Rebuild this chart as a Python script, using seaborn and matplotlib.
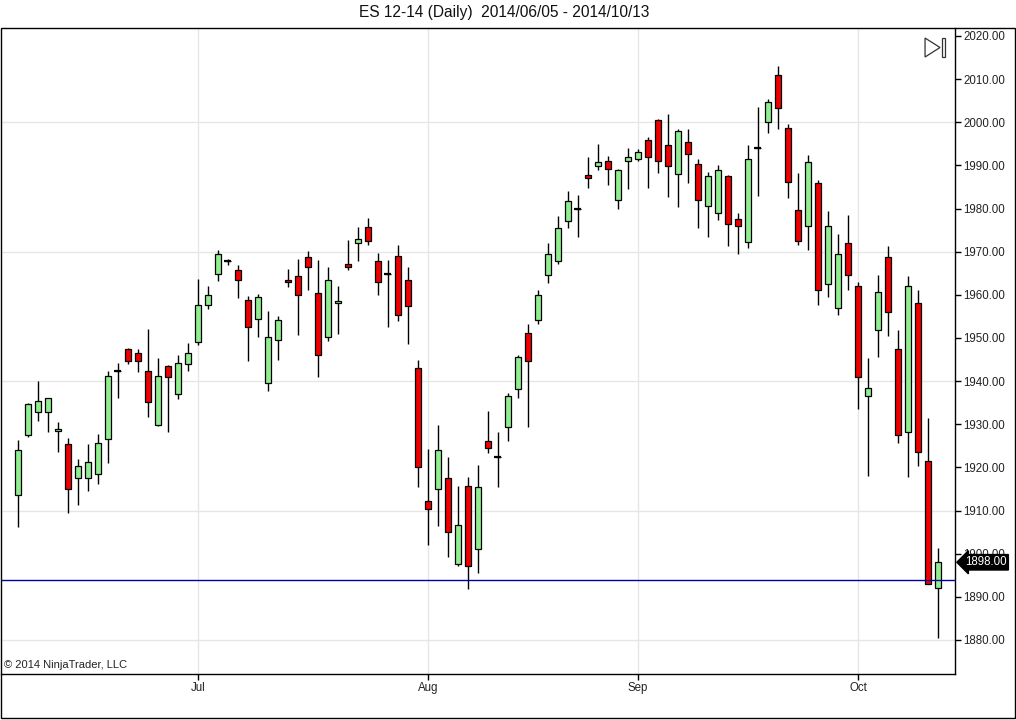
import numpy as np
import pandas as pd
import matplotlib
matplotlib.use("Agg")
import matplotlib.pyplot as plt
from matplotlib.patches import Rectangle, Polygon
import seaborn as sns

# ---------------- data ----------------
dates = pd.bdate_range("2014-06-05", "2014-10-13")

opens = [1913.5, 1927.5, 1932.75, 1932.75, 1928.5, 1925.5, 1917.5, 1917.5, 1918.5, 1926.5,
         1942.25, 1947.5, 1946.5, 1942.25, 1929.75, 1943.5, 1937.0, 1944.0, 1949.0, 1957.75,
         1964.75, 1967.75, 1965.75, 1958.75, 1954.5, 1939.5, 1949.5, 1963.5, 1964.25, 1968.75,
         1960.5, 1950.25, 1958.0, 1967.25, 1972.0, 1975.75, 1967.75, 1964.75, 1969.0, 1963.5,
         1943.0, 1912.25, 1915.0, 1917.5, 1897.5, 1915.75, 1901.0, 1926.0, 1922.5, 1929.25,
         1938.25, 1951.25, 1954.25, 1964.5, 1967.75, 1977.0, 1980.0, 1987.75, 1989.75, 1991.0,
         1982.0, 1991.0, 1991.5, 1996.0, 2000.5, 1994.75, 1988.0, 1995.5, 1990.25, 1980.5,
         1979.0, 1987.5, 1977.5, 1972.25, 1994.0, 2000.0, 2011.0, 1998.75, 1979.75, 1976.0,
         1986.0, 1962.5, 1957.0, 1972.0, 1962.0, 1936.5, 1951.75, 1968.75, 1947.5, 1928.25,
         1958.0, 1921.5, 1892.0]
highs = [1926.25, 1935.0, 1940.0, 1936.0, 1930.5, 1926.75, 1922.0, 1925.5, 1927.75, 1942.25,
         1944.25, 1947.75, 1947.5, 1952.0, 1945.25, 1943.75, 1946.0, 1948.75, 1963.75, 1962.0,
         1970.5, 1968.25, 1967.0, 1959.75, 1960.25, 1956.25, 1955.0, 1966.0, 1968.25, 1970.25,
         1968.0, 1966.5, 1962.0, 1972.75, 1975.75, 1977.75, 1969.75, 1968.0, 1971.5, 1966.5,
         1945.0, 1924.25, 1929.75, 1922.5, 1915.75, 1917.75, 1920.5, 1933.0, 1928.25, 1937.25,
         1946.0, 1953.25, 1961.0, 1972.0, 1978.25, 1984.0, 1983.25, 1992.0, 1995.0, 1992.25,
         1989.25, 1994.0, 1993.75, 1996.5, 2000.75, 2002.0, 1998.5, 1998.5, 1991.5, 1988.5,
         1990.0, 1987.75, 1979.0, 1994.75, 2003.5, 2005.5, 2013.0, 1999.5, 1988.25, 1992.5,
         1986.5, 1979.5, 1974.0, 1978.5, 1963.0, 1945.25, 1964.5, 1971.25, 1951.75, 1964.25,
         1961.0, 1931.5, 1901.25]
lows = [1906.25, 1927.0, 1930.75, 1928.25, 1923.5, 1909.5, 1911.25, 1914.5, 1916.25, 1921.0,
        1936.0, 1944.0, 1942.0, 1931.75, 1929.5, 1928.25, 1935.75, 1942.25, 1948.25, 1956.75,
        1963.25, 1967.0, 1959.25, 1944.75, 1950.25, 1937.75, 1945.0, 1961.75, 1950.75, 1961.0,
        1941.0, 1949.25, 1951.0, 1965.75, 1967.75, 1971.5, 1960.0, 1952.5, 1954.0, 1948.5,
        1915.5, 1902.0, 1906.5, 1899.25, 1897.25, 1891.75, 1895.5, 1923.25, 1915.5, 1926.0,
        1936.0, 1929.25, 1953.25, 1962.75, 1967.25, 1975.5, 1973.5, 1984.75, 1989.0, 1985.5,
        1980.0, 1984.5, 1991.0, 1984.75, 1988.25, 1982.75, 1980.25, 1986.0, 1975.5, 1973.5,
        1977.25, 1971.25, 1969.5, 1970.75, 1983.0, 1997.5, 1998.5, 1982.5, 1971.5, 1970.5,
        1957.75, 1959.5, 1955.25, 1961.0, 1933.5, 1918.0, 1945.5, 1950.5, 1925.75, 1917.75,
        1920.25, 1893.0, 1880.5]
closes = [1924.0, 1934.75, 1935.5, 1936.0, 1929.0, 1915.0, 1920.25, 1921.25, 1925.75, 1941.25,
          1942.25, 1944.75, 1944.75, 1935.25, 1941.25, 1941.0, 1944.25, 1946.5, 1957.75, 1960.0,
          1969.5, 1967.75, 1963.5, 1952.5, 1959.5, 1950.25, 1954.25, 1963.0, 1960.0, 1966.5,
          1946.0, 1963.5, 1958.5, 1966.5, 1973.0, 1972.5, 1963.0, 1964.75, 1955.25, 1957.5,
          1920.0, 1910.25, 1924.0, 1905.0, 1906.75, 1897.25, 1915.5, 1924.5, 1922.5, 1936.5,
          1945.5, 1944.75, 1960.0, 1969.5, 1975.5, 1981.75, 1980.0, 1987.0, 1990.75, 1989.25,
          1989.0, 1992.0, 1993.0, 1992.0, 1991.0, 1989.75, 1998.0, 1992.75, 1982.0, 1987.5,
          1989.0, 1976.5, 1976.0, 1991.5, 1994.0, 2004.75, 2003.25, 1986.25, 1972.5, 1990.75,
          1961.0, 1976.0, 1969.5, 1964.5, 1941.0, 1938.5, 1960.75, 1956.0, 1927.5, 1962.0,
          1923.5, 1893.0, 1898.0]

ref_line = 1894.0
last_price = 1898.00
title_text = "ES 12-14 (Daily)  2014/06/05 - 2014/10/13"
copyright_text = "\u00a9 2014 NinjaTrader, LLC"
y_ticks = list(range(1880, 2021, 10))
grid_levels = [1880, 1910, 1940, 1970, 2000]

# ---------------- style ----------------
sns.set_theme(style="white")
plt.rcParams["font.family"] = ["Liberation Sans", "DejaVu Sans"]

df = pd.DataFrame({"date": dates, "open": opens, "high": highs,
                   "low": lows, "close": closes})
df["idx"] = np.arange(len(df))
df["up"] = df["close"] >= df["open"]

fig = plt.figure(figsize=(10.16, 7.2), dpi=100)
ax = fig.add_axes([1 / 1016, (720 - 674) / 720, 954 / 1016, (674 - 28) / 720])

GREEN = "#90EE90"
RED = "#EE0000"

# month ticks from dates
month_start = df.groupby(df["date"].dt.to_period("M"))["idx"].min().iloc[1:]
month_labels = [d.strftime("%b") for d in df.loc[month_start.values, "date"]]

# grid
for g in grid_levels:
    ax.axhline(g, color="#e6e6e6", lw=1, zorder=0)
for m in month_start.values:
    ax.axvline(m, color="#e6e6e6", lw=1, zorder=0)

# wicks
ax.vlines(df["idx"], df["low"], df["high"], color="black", lw=1, zorder=2)
# bodies
body_bottom = np.minimum(df["open"], df["close"])
body_h = np.abs(df["close"] - df["open"])
colors = [GREEN if u else RED for u in df["up"]]
ax.bar(df["idx"], body_h, bottom=body_bottom, width=0.62, color=colors,
       edgecolor="black", linewidth=0.9, zorder=3)
doji = df[body_h == 0]
ax.hlines(doji["open"], doji["idx"] - 0.35, doji["idx"] + 0.35, color="black",
          lw=1.6, zorder=4)

# reference line
ax.axhline(ref_line, color="#0000AA", lw=1, zorder=5)

ax.set_xlim(-1.7, 93.7)
ax.set_ylim(1872.1, 2021.85)

ax.yaxis.tick_right()
ax.set_yticks(y_ticks)
ax.set_yticklabels([f"{v:.2f}" for v in y_ticks])
ax.set_xticks(month_start.values)
ax.set_xticklabels(month_labels)
ax.tick_params(axis="both", direction="out", length=4, width=1, color="black",
               labelsize=8.3, pad=2, bottom=True, right=True, left=False,
               labelcolor="#222222")
for s in ["left", "top"]:
    ax.spines[s].set_visible(False)
for s in ["right", "bottom"]:
    ax.spines[s].set_color("black")
    ax.spines[s].set_linewidth(1)
ax.set_xlabel("")
ax.set_ylabel("")

# last price marker (covers the 1900.00 label as in the original)
ax.annotate(f"{last_price:.2f}", xy=(1.0, last_price), xycoords=("axes fraction", "data"),
            xytext=(1.0105, last_price), textcoords=("axes fraction", "data"),
            ha="left", va="center", color="white", fontsize=8.3, zorder=10,
            bbox=dict(boxstyle="larrow,pad=0.15", fc="black", ec="black"),
            annotation_clip=False)

# icon at top-right
tri = Polygon([[0.9686, 0.9845], [0.9686, 0.9551], [0.9843, 0.9698]], closed=True,
              fill=False, ec="#333333", lw=0.9, transform=ax.transAxes)
ax.add_patch(tri)
ax.add_patch(Rectangle((0.9866, 0.9551), 0.0029, 0.0294, fill=False, ec="#333333",
                       lw=0.9, transform=ax.transAxes))

ax.text(0.003, 0.006, copyright_text, transform=ax.transAxes, fontsize=8,
        ha="left", va="bottom", color="#222222")

fig.text(504 / 1016, 1 - 13 / 720, title_text, ha="center", va="center", fontsize=11.2,
         color="#111111")

# outer frame
fig.patches.append(Rectangle((0.0005, 2 / 720), 1014.5 / 1016, (718 - 28) / 720,
                             fill=False, ec="black", lw=1, transform=fig.transFigure,
                             figure=fig))

fig.savefig("out.png", dpi=100)
